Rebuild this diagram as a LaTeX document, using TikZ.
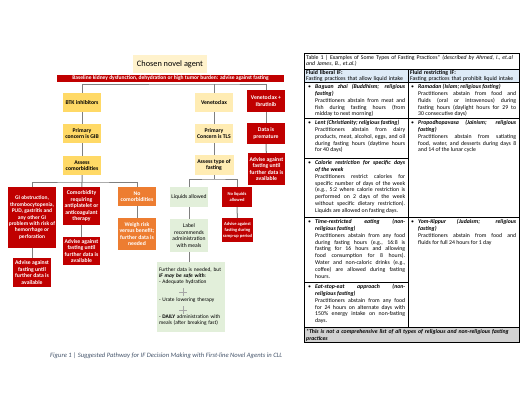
\documentclass[tikz,border=0pt]{standalone}
\usepackage{fontspec}
\setmainfont{Carlito}
\usepackage{xcolor}
\usepackage{tikz}
\usetikzlibrary{positioning, calc}
\definecolor{AgentRed}{RGB}{192, 0, 0}
\definecolor{AgentOrange}{RGB}{237, 125, 49}
\definecolor{BTKYellow}{RGB}{255, 217, 102}
\definecolor{VenYellow}{RGB}{255, 236, 179}
\definecolor{ChosenCream}{RGB}{255, 242, 204}
\definecolor{LiqGreen}{RGB}{226, 239, 218}
\definecolor{LineGray}{RGB}{128, 128, 128}
\definecolor{HeadBlue}{RGB}{222, 235, 247}
\definecolor{FootGray}{RGB}{210, 210, 210}
\definecolor{CaptionBlue}{RGB}{68, 84, 106}
\newcommand{\boxfont}{\fontsize{5.7}{6.5}\selectfont\bfseries}
\newcommand{\smallboxfont}{\fontsize{4.5}{5.9}\selectfont\bfseries}
\newcommand{\greenfont}{\fontsize{5.6}{6.4}\selectfont}
\newcommand{\tabfont}{\fontsize{5.8}{6.9}\selectfont}
\newcommand{\headfont}{\fontsize{5.8}{6.3}\selectfont}
\newcommand{\practice}[2]{{\bfseries\itshape #1}\\#2}

\begin{document}
\begin{tikzpicture}[x=1pt, y=-1pt,
    flowbox/.style={inner sep=1pt, align=center, font=\boxfont, minimum width=38, minimum height=19},
    redbox/.style={flowbox, fill=AgentRed, text=white},
    orangebox/.style={flowbox, fill=AgentOrange, text=white},
    btkbox/.style={flowbox, fill=BTKYellow},
    venbox/.style={flowbox, fill=VenYellow},
    greenbox/.style={flowbox, fill=LiqGreen, font=\greenfont},
    conn/.style={draw=LineGray, line width=1pt},
    plusline/.style={draw=LineGray!70, line width=0.4pt},
    tabline/.style={draw=black, line width=0.6pt},
    bullet/.style={anchor=base west, inner sep=0pt, font=\tabfont},
    cell/.style={anchor=base west, inner sep=0pt, font=\tabfont, text width=90, align=justify},
    cellr/.style={cell, text width=98},
    tabtext/.style={anchor=base west, inner sep=0pt, font=\headfont, align=left}]
    \useasboundingbox (0,0) rectangle (520,402);
    \fill[white] (0,0) rectangle (520,402);

    % 流程图顶部
    \node[fill=ChosenCream, minimum width=74, minimum height=18, inner sep=0pt, font=\fontsize{8.3}{10}\selectfont] (agent) at (170,64) {Chosen novel agent};
    \node[fill=AgentRed, text=white, minimum width=227, minimum height=7.5, inner sep=0pt, font=\fontsize{5.5}{6}\selectfont\bfseries] (baseline) at (170.5,78.5) {Baseline kidney dysfunction, dehydration or high tumor burden: advise against fasting};

    % 三种药物
    \node[btkbox] (btk) at (82,102.5) {BTK inhibitors};
    \node[venbox] (ven) at (214,102.5) {Venetoclax};
    \node[redbox, minimum height=22] (venibr) at (266,101) {Venetoclax +\\Ibrutinib};
    \node[btkbox] (gib) at (82,133.5) {Primary\\concern is GIB};
    \node[venbox] (tls) at (214,133.5) {Primary\\Concern is TLS};
    \node[redbox, minimum height=21] (premature) at (266,133.5) {Data is\\premature};
    \node[btkbox] (assessc) at (82,165.5) {Assess\\comorbidities};
    \node[venbox, minimum width=39, minimum height=20] (assesst) at (214,165) {Assess type of\\fasting};
    \node[redbox, minimum width=37, minimum height=32] (advr) at (266.5,169) {Advise against\\fasting until\\further data is\\available};

    % 合并症分支
    \node[redbox, minimum width=48, minimum height=61, font=\fontsize{5.5}{6.4}\selectfont\bfseries] (gi) at (32,217.5) {GI obstruction,\\thrombocytopenia,\\PUD, gastritis and\\any other GI\\problem with risk of\\hemorrhage or\\perforation};
    \node[redbox, minimum width=37, minimum height=38] (comorb) at (81.5,206) {Comorbidity\\requiring\\antiplatelet or\\anticoagulant\\therapy};
    \node[orangebox] (nocom) at (137,196.5) {No\\comorbidities};
    \node[orangebox, minimum height=32] (weigh) at (137,234) {Weigh risk\\versus benefit;\\further data is\\needed};
    \node[redbox, minimum width=37, minimum height=28] (advc) at (81.5,251) {Advise against\\fasting until\\further data is\\available};
    \node[redbox, minimum height=29] (advg) at (32,272.5) {Advise against\\fasting until\\further data is\\available};

    % 禁食类型分支
    \node[greenbox, minimum height=20] (liq) at (189,197) {Liquids allowed};
    \node[redbox, font=\smallboxfont, minimum width=30, minimum height=20] (noliq) at (237,197) {No liquids\\allowed};
    \node[greenbox, minimum height=33] (label) at (189,235.5) {Label\\recommends\\administration\\with meals};
    \node[redbox, font=\smallboxfont, minimum width=31, minimum height=24] (ramp) at (237.5,230) {Advise against\\fasting during\\ramp-up period};
    \node[fill=LiqGreen, minimum width=68, minimum height=70, inner sep=2pt, text width=64, align=left, font=\fontsize{5.4}{6}\selectfont] (safe) at (191,297) {Further data is needed, but\\{\bfseries\itshape IF may be safe with}:\\- Adequate hydration\\[12pt]- Urate lowering therapy\\[11pt]- {\bfseries DAILY} administration with\\meals (after breaking fast)};
    \draw[plusline] (179,292) -- (187,292) (183,288) -- (183,296);
    \draw[plusline] (179,310) -- (187,310) (183,306) -- (183,314);

    % 连接线
    \coordinate (agentbus) at (214,84);
    \coordinate (combus) at (82,182);
    \coordinate (typebus) at (214,179);
    \draw[conn] (btk) |- (agentbus) -| (venibr);
    \draw[conn] (agentbus) -- (ven);
    \draw[conn] (btk) -- (gib);
    \draw[conn] (gib) -- (assessc);
    \draw[conn] (ven) -- (tls);
    \draw[conn] (tls) -- (assesst);
    \draw[conn] (venibr) -- (premature);
    \draw[conn] (premature) -- (advr);
    \draw[conn] (gi) |- (combus) -| (nocom);
    \draw[conn] (assessc) -- (combus) -- (comorb);
    \draw[conn] (gi) -- (advg);
    \draw[conn] (comorb) -- (advc);
    \draw[conn] (nocom) -- (weigh);
    \draw[conn] (liq) |- (typebus) -| (noliq);
    \draw[conn] (assesst) -- (typebus);
    \draw[conn] (liq) -- (label);
    \draw[conn] (label) -- (label |- safe.north);
    \draw[conn] (noliq) -- (ramp);

    % 图注
    \node[anchor=west, inner sep=0pt, text=CaptionBlue, font=\fontsize{6.6}{7.5}\selectfont\itshape] (caption) at (50,356) {Figure 1 | Suggested Pathway for IF Decision Making with First-line Novel Agents in CLL};

    % 表格底色与网格
    \fill[HeadBlue] (304,69) rectangle (519,82);
    \fill[FootGray] (304,327) rectangle (519,342);
    \draw[tabline] (304,53) rectangle (519,342);
    \draw[tabline] (304,69) -- (519,69) (304,82) -- (519,82) (304,118) -- (519,118)
        (304,158) -- (408,158) (304,217) -- (519,217) (304,282) -- (408,282)
        (304,327) -- (519,327) (408,69) -- (408,327);

    % 表格文字
    \node[tabtext, text width=220] (tabtitle) at (306,59.3) {Table 1 | Examples of Some Types of Fasting Practices* \textit{(described by Ahmed, I., et.al}\\\textit{and James, B., et.al.)}};
    \node[tabtext, text width=100] (headl) at (306,74.2) {\textbf{Fluid liberal IF:}\\Fasting practices that allow liquid intake};
    \node[tabtext, text width=108] (headr) at (410,74.2) {\textbf{Fluid restricting IF:}\\Fasting practices that prohibit liquid intake};

    \node[bullet] (bulbaguan) at (308,88.3) {\textbullet};
    \node[cell] (baguan) at (315,88.3) {\practice{Baguan zhai (Buddhism; religious\linebreak fasting)}{Practitioners abstain from meat and\linebreak fish during fasting hours (from\linebreak midday to next morning)}};
    \node[bullet] (bullent) at (308,124.3) {\textbullet};
    \node[cell] (lent) at (315,124.3) {\practice{Lent (Christianity; religious fasting)}{Practitioners abstain from dairy\linebreak products, meat, alcohol, eggs, and oil\linebreak during fasting hours (daytime hours\linebreak for 40 days)}};
    \node[bullet] (bulcalorie) at (308,164.3) {\textbullet};
    \node[cell] (calorie) at (315,164.3) {\practice{Calorie restriction for specific days\linebreak of the week}{Practitioners restrict calories for\linebreak specific number of days of the week\linebreak (e.g., 5:2 where calorie restriction is\linebreak performed on 2 days of the week\linebreak without specific dietary restriction).\linebreak Liquids are allowed on fasting days.}};
    \node[bullet] (bultre) at (308,223.3) {\textbullet};
    \node[cell] (tre) at (315,223.3) {\practice{Time-restricted eating (non-\linebreak religious fasting)}{Practitioners abstain from any food\linebreak during fasting hours (e.g., 16:8 is\linebreak fasting for 16 hours and allowing\linebreak food consumption for 8 hours).\linebreak Water and non-caloric drinks (e.g.,\linebreak coffee) are allowed during fasting\linebreak hours.}};
    \node[bullet] (bulese) at (308,288.3) {\textbullet};
    \node[cell] (ese) at (315,288.3) {\practice{Eat-stop-eat approach (non-\linebreak religious fasting)}{Practitioners abstain from any food\linebreak for 24 hours on alternate days with\linebreak 150\% energy intake on non-fasting\linebreak days.}};

    \node[bullet] (bulramadan) at (411,88.3) {\textbullet};
    \node[cellr] (ramadan) at (418,88.3) {\practice{Ramadan (Islam; religious fasting)}{Practitioners abstain from food and\linebreak fluids (oral or intravenous) during\linebreak fasting hours (daylight hours for 29 to\linebreak 30 consecutive days)}};
    \node[bullet] (bulpropo) at (411,124.3) {\textbullet};
    \node[cellr] (propo) at (418,124.3) {\practice{Propodhopavasa (Jainism; religious\linebreak fasting)}{Practitioners abstain from satiating\linebreak food, water, and desserts during days 8\linebreak and 14 of the lunar cycle}};
    \node[bullet] (bulyom) at (411,223.3) {\textbullet};
    \node[cellr] (yom) at (418,223.3) {\practice{Yom-Kippur (Judaism; religious\linebreak fasting)}{Practitioners abstain from food and\linebreak fluids for full 24 hours for 1 day}};

    \node[tabtext, text width=220, font=\fontsize{5.8}{6.7}\selectfont\bfseries\itshape] (tabnote) at (306,333.3) {*This is not a comprehensive list of all types of religious and non-religious fasting\\practices};
\end{tikzpicture}
\end{document}
